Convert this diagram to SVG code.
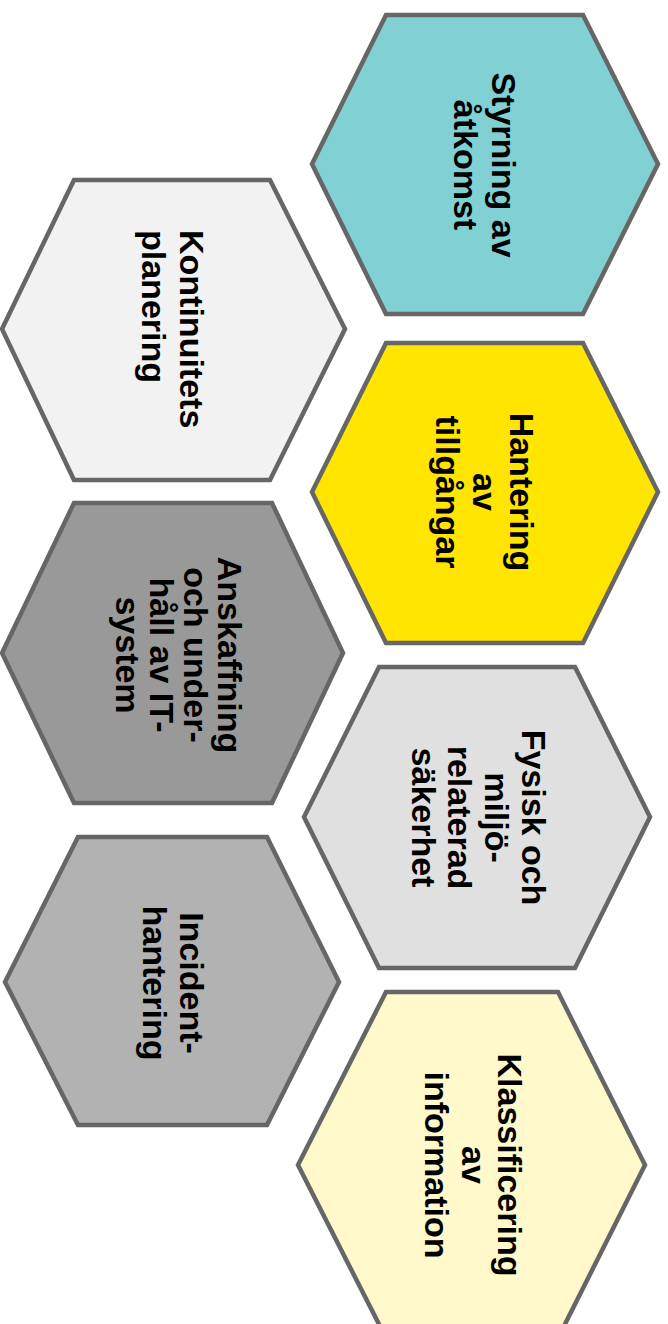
<svg xmlns="http://www.w3.org/2000/svg" width="668" height="1324" viewBox="0 0 668 1324">
<style>
.hex{stroke:#666666;stroke-width:4.5;stroke-linejoin:miter}
.t{font-family:"Liberation Sans",Arial,sans-serif;font-weight:bold;font-size:34px;fill:#000;text-anchor:middle}
.s{text-anchor:start}
</style>
<rect width="668" height="1324" fill="#ffffff"/>
<g id="styrning">
<polygon class="hex" fill="#80D0D4" points="386,15 583,15 658,164 583,314 386,314 312,164"/>
<text class="t" transform="translate(492,165) rotate(90)">Styrning av</text>
<text class="t" transform="translate(454,165) rotate(90)">åtkomst</text>
</g>
<g id="kontinuitet">
<polygon class="hex" fill="#F2F2F2" points="74,180 270,180 345,329 270,480 74,480 2,329"/>
<text class="t s" transform="translate(180,230) rotate(90)">Kontinuitets</text>
<text class="t s" transform="translate(142,230) rotate(90)">planering</text>
</g>
<g id="hantering">
<polygon class="hex" fill="#FFE500" points="386,343 583,343 658,492 583,643 386,643 312,492"/>
<text class="t" transform="translate(510,492) rotate(90)">Hantering</text>
<text class="t" transform="translate(473,492) rotate(90)">av</text>
<text class="t" transform="translate(436,492) rotate(90)">tillgångar</text>
</g>
<g id="anskaffning">
<polygon class="hex" fill="#999999" points="74,503 272,503 343,653 272,803 74,803 2,653"/>
<text class="t" transform="translate(218,655) rotate(90)">Anskaffning</text>
<text class="t" transform="translate(184,655) rotate(90)">och under-</text>
<text class="t" transform="translate(150,655) rotate(90)">håll av IT-</text>
<text class="t" transform="translate(116,655) rotate(90)">system</text>
</g>
<g id="fysisk">
<polygon class="hex" fill="#E0E0E0" points="379,667 575,667 650,817 575,968 379,968 304,817"/>
<text class="t" transform="translate(522,817.5) rotate(90)">Fysisk och</text>
<text class="t" transform="translate(485,817.5) rotate(90)">miljö-</text>
<text class="t" transform="translate(448,817.5) rotate(90)">relaterad</text>
<text class="t" transform="translate(412,817.5) rotate(90)">säkerhet</text>
</g>
<g id="incident">
<polygon class="hex" fill="#B2B2B2" points="78,837 267,837 339,982 267,1125 78,1125 5,982"/>
<text class="t" transform="translate(180,983) rotate(90)">Incident-</text>
<text class="t" transform="translate(143,983) rotate(90)">hantering</text>
</g>
<g id="klassificering">
<polygon class="hex" fill="#FFF9CC" points="386,992 558,992 645,1165 558,1338 386,1338 298,1165"/>
<text class="t" transform="translate(498,1165) rotate(90)">Klassificering</text>
<text class="t" transform="translate(462,1165) rotate(90)">av</text>
<text class="t" transform="translate(425,1165) rotate(90)">information</text>
</g>
<g id="connectors"/>
</svg>
